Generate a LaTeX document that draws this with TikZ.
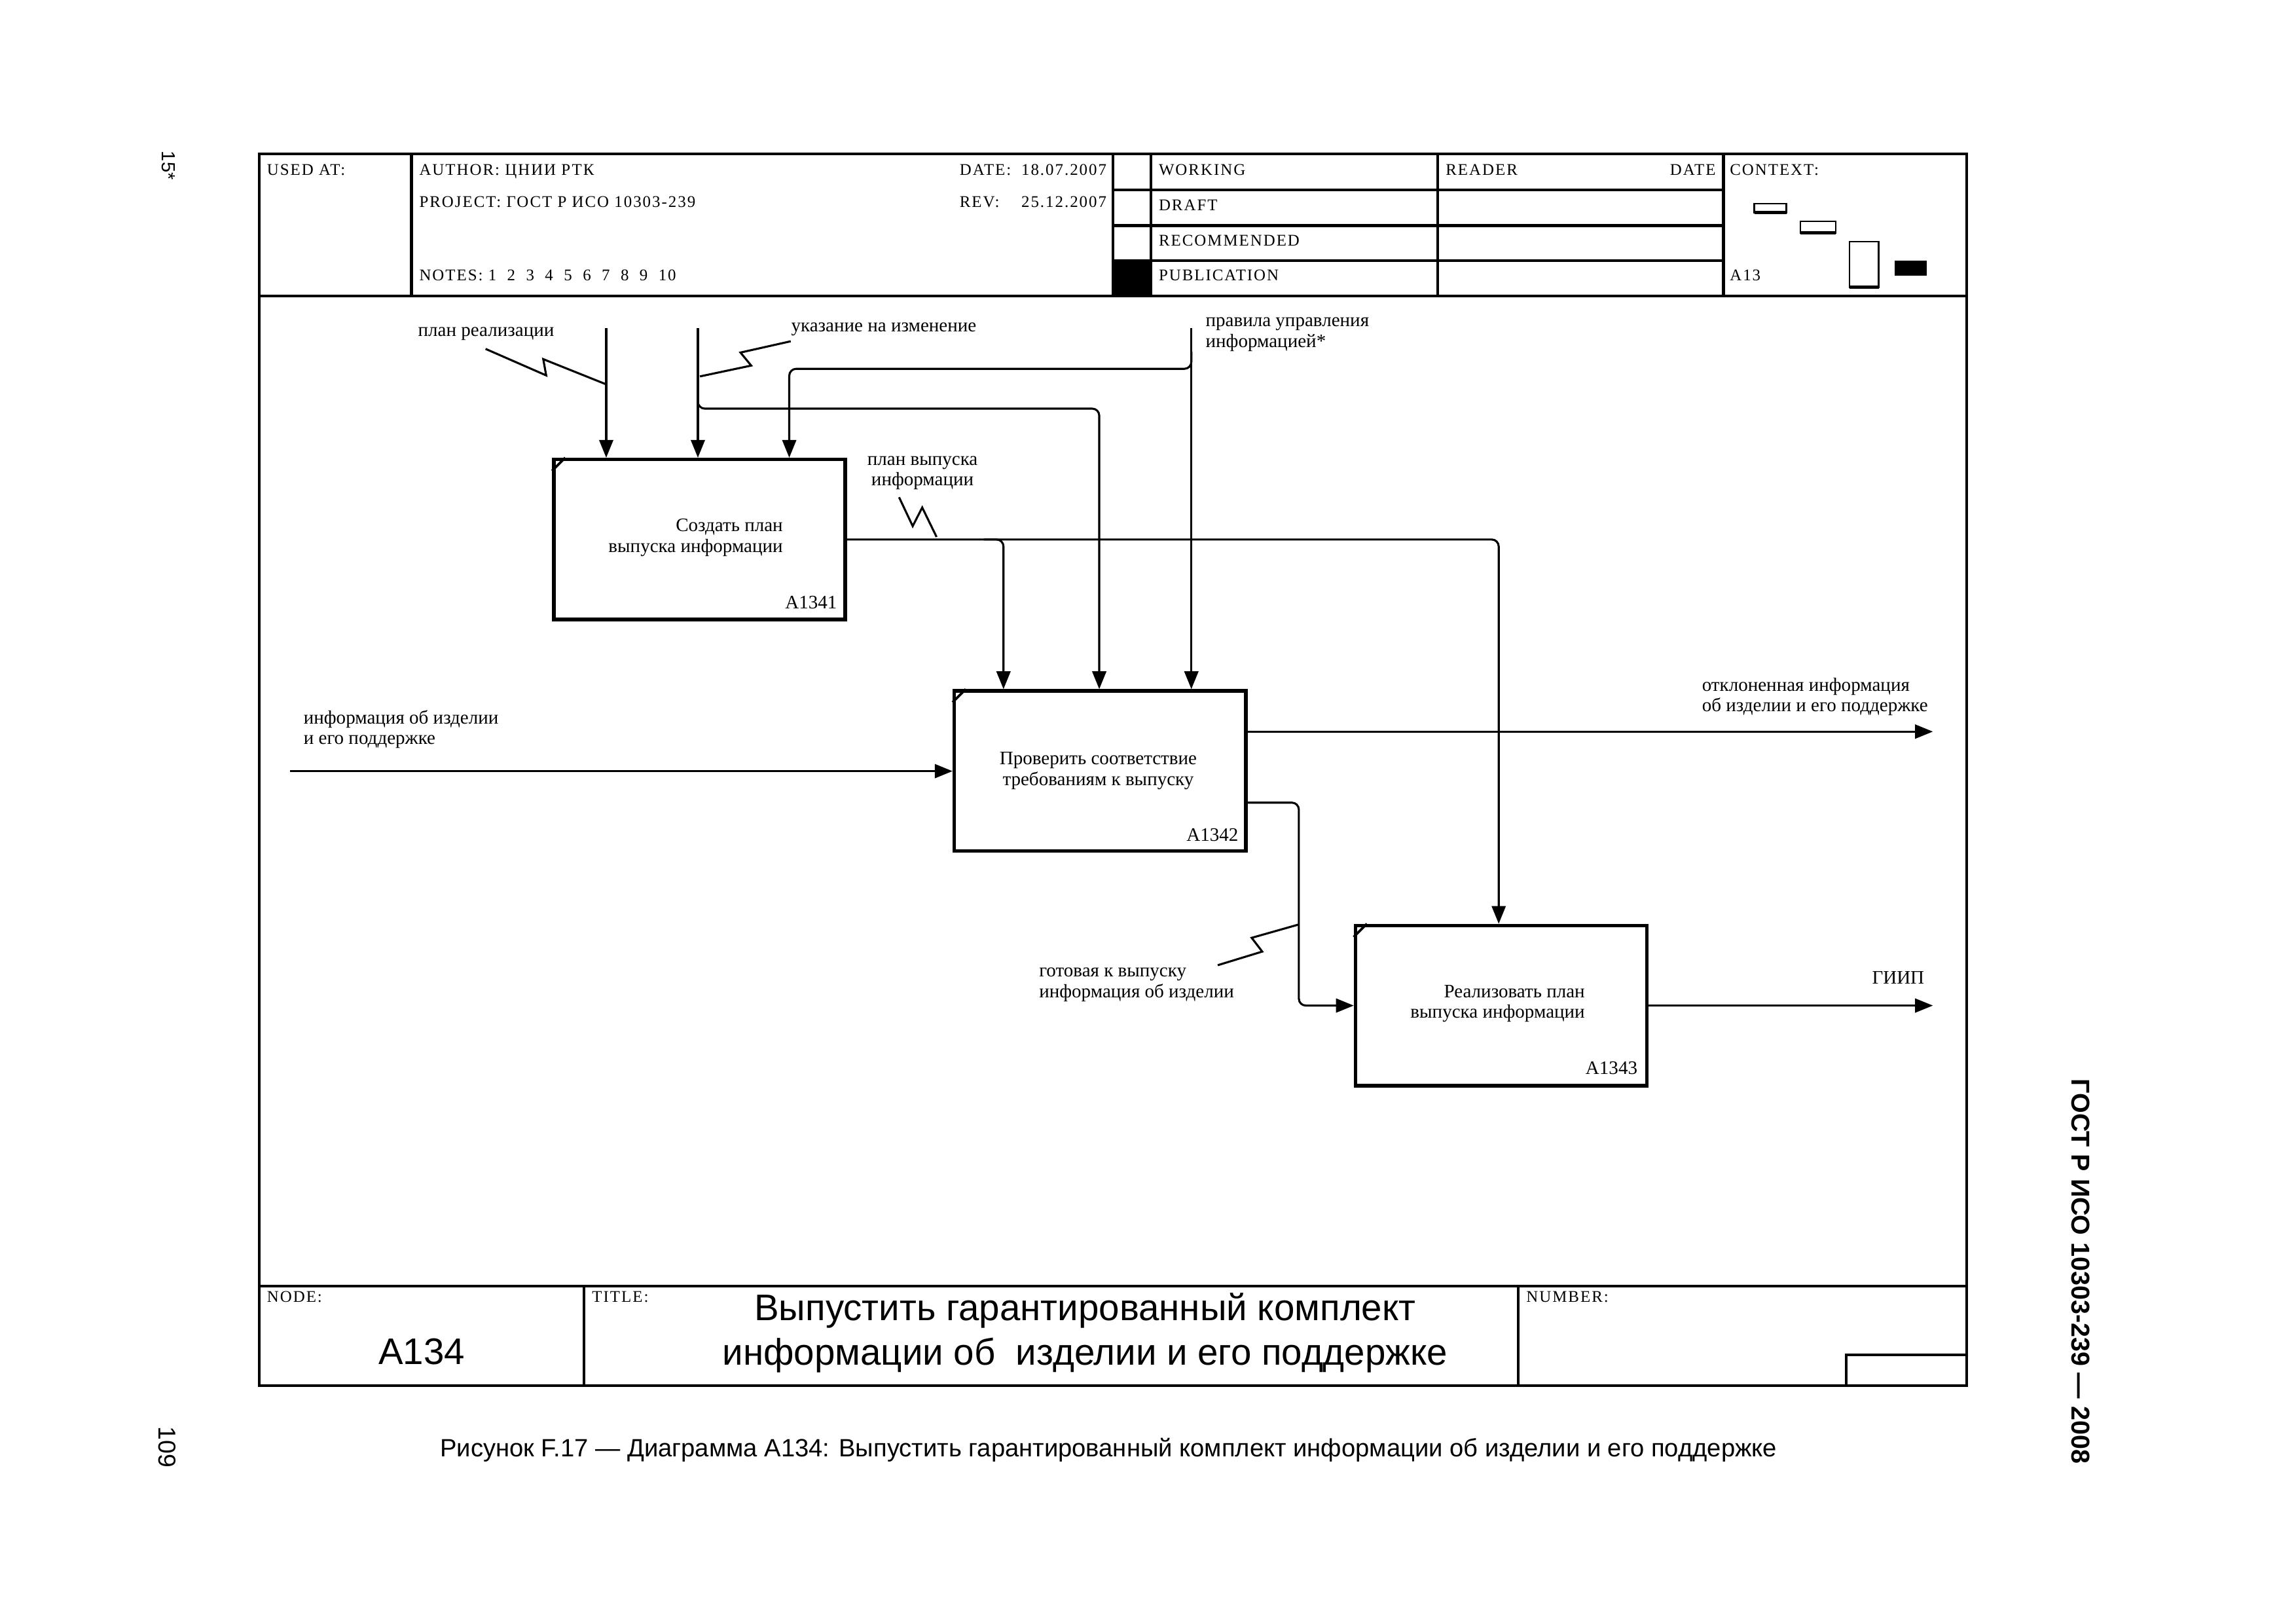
\documentclass[tikz,border=0pt]{standalone}
\usepackage{fontspec}
\setmainfont{Liberation Serif}
\newfontfamily\arialfont{Liberation Sans}
\newfontfamily\hdrfont[LetterSpace=8]{Liberation Serif}
\usetikzlibrary{arrows.meta}

\tikzset{
  idefbox/.style={draw, line width=1.3pt, minimum width=37.7mm, minimum height=20.7mm, anchor=north west, inner sep=0pt},
  flow/.style={line width=0.75pt, rounded corners=0.9mm, -{Triangle[length=2.3mm,width=1.8mm]}},
  squig/.style={line width=0.75pt},
  lbl/.style={font=\fontsize{7}{7.6}\selectfont, inner sep=0pt},
  hdr/.style={font=\hdrfont\fontsize{6}{7}\selectfont, inner sep=0pt, anchor=base west},
  sans/.style={font=\arialfont, inner sep=0pt},
}

\begin{document}
\begin{tikzpicture}[x=0.18941mm, y=-0.18941mm]
    \useasboundingbox (0,0) rectangle (1568,1108.4);

    % Frame
    \draw[line width=1.1pt] (177,105) rectangle (1343,946);
    \draw[line width=1.1pt] (177,202) -- (1343,202);
    \foreach \x in {281,760,786,982,1177}
        \draw[line width=1pt] (\x,105) -- (\x,202);
    \foreach \y in {129.7,154,178}
        \draw[line width=1pt] (760,\y) -- (1177,\y);
    \fill (760,178) rectangle (786,202);

    % Header texts
    \node[hdr] (usedat) at (182,119.7) {USED AT:};
    \node[hdr] (author) at (286,119.7) {AUTHOR:\ ЦНИИ РТК};
    \node[hdr] (date) at (655,119.7) {DATE:};
    \node[hdr, anchor=base east] (dateval) at (756,119.7) {18.07.2007};
    \node[hdr] (project) at (286,141.7) {PROJECT:\ ГОСТ Р ИСО 10303-239};
    \node[hdr] (rev) at (655,141.7) {REV:};
    \node[hdr, anchor=base east] (revval) at (756,141.7) {25.12.2007};
    \node[hdr] (notes) at (286,191.7) {NOTES:\ 1\ \ 2\ \ 3\ \ 4\ \ 5\ \ 6\ \ 7\ \ 8\ \ 9\ \ 10};
    \node[hdr] (working) at (791,119.7) {WORKING};
    \node[hdr] (draft) at (791,143.7) {DRAFT};
    \node[hdr] (recommended) at (791,167.7) {RECOMMENDED};
    \node[hdr] (publication) at (791,191.7) {PUBLICATION};
    \node[hdr] (reader) at (987,119.7) {READER};
    \node[hdr, anchor=base east] (rdate) at (1172,119.7) {DATE};
    \node[hdr] (context) at (1181,119.7) {CONTEXT:};
    \node[hdr] (ctxnode) at (1181,191.7) {A13};

    % Context boxes
    \draw[line width=0.6pt] (1198,139) rectangle (1220,145);
    \draw[line width=1.2pt] (1198,145) -- (1220,145);
    \draw[line width=0.6pt] (1229.5,151) rectangle (1253.6,159);
    \draw[line width=1.2pt] (1229.5,159) -- (1253.6,159);
    \draw[line width=0.6pt] (1263,165) rectangle (1283,196);
    \draw[line width=1.2pt] (1263,196) -- (1283,196);
    \fill (1294,178) rectangle (1316,188);

    % Activity boxes
    \node[idefbox] (a1341) at (377,312.5) {};
    \node[idefbox] (a1342) at (650.5,470.5) {};
    \node[idefbox] (a1343) at (924.5,630.7) {};
    \foreach \b in {a1341,a1342,a1343}
        \draw[line width=0.9pt] ([shift={(0,9)}]\b.north west) -- ([shift={(9,0)}]\b.north west);

    \node[lbl, align=right, anchor=east] (t1341) at (535,367) {Создать план\\выпуска информации};
    \node[lbl, anchor=east] (n1341) at (572,411.5) {A1341};
    \node[lbl, align=center] (t1342) at (750,526.4) {Проверить соответствие\\требованиям к выпуску};
    \node[lbl, anchor=east] (n1342) at (846,570) {A1342};
    \node[lbl, align=right, anchor=east] (t1343) at (1082.7,685.2) {Реализовать план\\выпуска информации};
    \node[lbl, anchor=east] (n1343) at (1118.6,729) {A1343};

    % Controls
    \coordinate (c1) at (414,224);
    \coordinate (c2) at (476.6,224);
    \coordinate (c3) at (813.6,224);
    \draw[flow] (c1) -- (c1 |- a1341.north);
    \draw[flow] (c2) -- (c2 |- a1341.north);
    \draw[flow] (c3) -- (c3 |- a1342.north);
    \coordinate (b3) at (813.6,240);
    \coordinate (k3) at (539,251.8);
    \draw[flow] (b3) |- (k3) -- (k3 |- a1341.north);
    \coordinate (b2) at (476.6,266);
    \coordinate (k2) at (750.7,279);
    \draw[flow] (b2) |- (k2) -- (k2 |- a1342.north);

    % Output of A1341
    \coordinate (k1) at (1023.5,367);
    \draw[flow] (a1341.east) -- (a1341.east -| k1) -- (k1 |- a1343.north);
    \coordinate (b1) at (672,367);
    \coordinate (k4) at (685.3,400);
    \draw[flow] (b1 |- a1341.east) -| (k4) -- (k4 |- a1342.north);

    % Input and outputs of A1342
    \coordinate (i1) at (198,526.5);
    \draw[flow] (i1) -- (i1 -| a1342.west);
    \coordinate (o1) at (1320,499.5);
    \draw[flow] (o1 -| a1342.east) -- (o1);
    \coordinate (k5) at (887,548);
    \draw[flow] (k5 -| a1342.east) -- (k5) |- (a1343.west);

    % Output of A1343
    \coordinate (o2) at (1320,685.3);
    \draw[flow] (a1343.east) -- (a1343.east -| o2);

    % Arrow labels
    \node[lbl] (lplan) at (332,228) {план реализации};
    \draw[squig] (331.6,238.2) -- (373,256.3) -- (371,245.2) -- (413.7,262.3);
    \node[lbl, anchor=west] (lchange) at (540,225) {указание на изменение};
    \draw[squig] (540,233) -- (505.7,240.7) -- (513,249.6) -- (478,257);
    \node[lbl, align=left, anchor=west] (lrules) at (823,228.3) {правила управления\\информацией*};
    \node[lbl, align=center] (lrelplan) at (630,323) {план выпуска\\информации};
    \draw[squig] (614,339.5) -- (623.3,359.2) -- (629.8,346.5) -- (639.6,366.6);
    \node[lbl, align=left, anchor=west] (lprod) at (207,498) {информация об изделии\\и его поддержке};
    \node[lbl, align=left, anchor=west] (lrej) at (1162,475.8) {отклоненная информация\\об изделии и его поддержке};
    \node[lbl, align=left, anchor=west] (lready) at (709.3,672.2) {готовая к выпуску\\информация об изделии};
    \draw[squig] (831.6,659) -- (862,649.7) -- (854.8,640.3) -- (887.3,631.1);
    \node[lbl, anchor=east] (lgiip) at (1314.5,667.6) {ГИИП};

    % Bottom block
    \draw[line width=1.1pt] (177,878) -- (1343,878);
    \draw[line width=1pt] (399,878) -- (399,946);
    \draw[line width=1pt] (1037,878) -- (1037,946);
    \draw[line width=1pt] (1261,946) -- (1261,925) -- (1343,925);
    \node[hdr] (nodelbl) at (182,889) {NODE:};
    \node[hdr] (titlelbl) at (404,889) {TITLE:};
    \node[hdr] (numberlbl) at (1042,889) {NUMBER:};
    \node[sans, font=\arialfont\fontsize{13.6}{16}\selectfont] (nodeid) at (288,923) {A134};
    \node[sans, font=\arialfont\fontsize{13.6}{16.2}\selectfont, align=center] (title) at (741,910)
        {Выпустить гарантированный комплект\\информации об\ \ изделии и его поддержке};

    % Page texts
    \node[sans, font=\arialfont\fontsize{9.2}{11}\selectfont] (caption) at (757,990)
        {Рисунок F.17 — Диаграмма А134: Выпустить гарантированный комплект информации об изделии и его поддержке};
    \node[sans, font=\arialfont\fontsize{9}{11}\selectfont, rotate=-90] (pageno) at (114,988) {109};
    \node[sans, font=\arialfont\fontsize{7}{9}\selectfont, rotate=-90] (sheet) at (115,113) {15*};
    \node[sans, font=\arialfont\bfseries\fontsize{9.5}{11}\selectfont, rotate=-90] (standard) at (1421,868)
        {ГОСТ Р ИСО 10303-239 — 2008};
\end{tikzpicture}
\end{document}
